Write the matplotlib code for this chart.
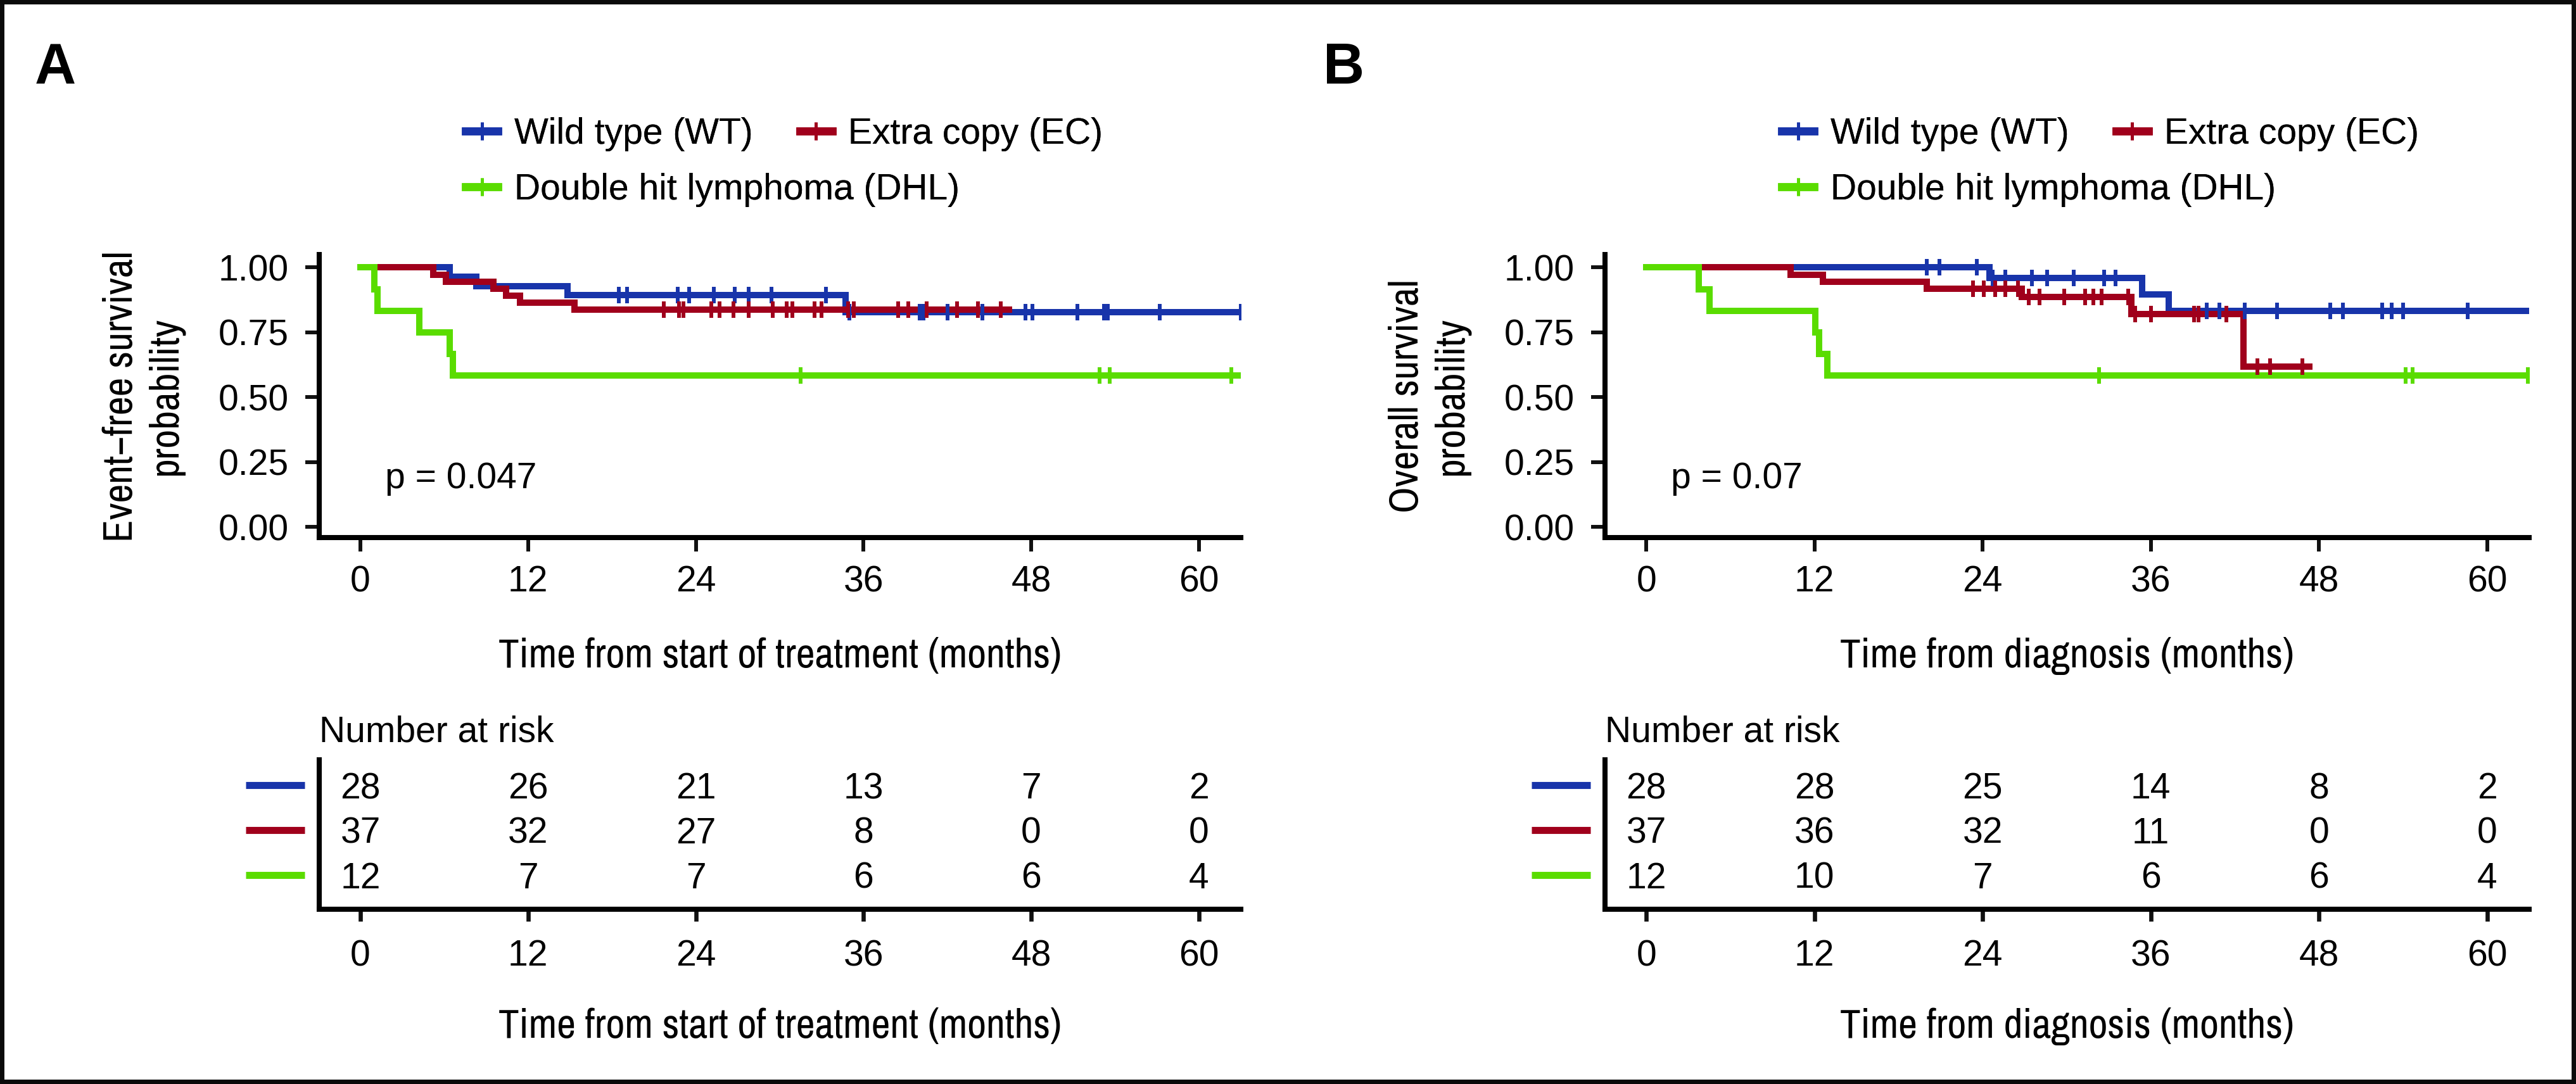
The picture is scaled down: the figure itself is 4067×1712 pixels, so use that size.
import matplotlib
matplotlib.use("Agg")
import matplotlib.pyplot as plt
import matplotlib.transforms as mtransforms
import numpy as np
from matplotlib.lines import Line2D
from matplotlib.patches import Rectangle

plt.rcParams["font.family"] = ["Liberation Sans", "DejaVu Sans"]
NARROW = ["Archivo Narrow", "Roboto Condensed", "Liberation Sans", "DejaVu Sans"]

GROUPS = ["Wild type (WT)", "Extra copy (EC)", "Double hit lymphoma (DHL)"]
COLORS = ["#1834AA", "#A0001C", "#5ADC00"]
RISK_TIMES = [0, 12, 24, 36, 48, 60]

# --- Panel A: event-free survival (time from start of treatment) ---
efs_wt_t = [0, 6.4, 8.3, 14.8, 34.7]
efs_wt_s = [1.0, 0.964, 0.929, 0.893, 0.829]
efs_wt_end = 63.4
efs_wt_cens = [18.5, 19.1, 22.7, 23.5, 25.3, 26.8, 27.8, 29.4, 33.3, 35.0, 40.0, 40.3,
               42.0, 44.5, 47.6, 48.1, 51.3, 53.2, 53.5, 57.2, 63.0]

efs_ec_t = [0, 5.2, 6.1, 9.5, 10.4, 11.4, 15.3]
efs_ec_s = [1.0, 0.973, 0.946, 0.919, 0.892, 0.865, 0.838]
efs_ec_end = 46.4
efs_ec_cens = [21.7, 22.8, 23.1, 25.1, 25.7, 26.7, 27.8, 29.5, 30.5, 30.9, 32.5, 33.0,
               34.9, 35.3, 38.5, 39.2, 40.5, 42.7, 44.2, 45.8]

efs_dhl_t = [0, 1.0, 1.2, 4.2, 6.4, 6.6]
efs_dhl_s = [1.0, 0.917, 0.833, 0.75, 0.667, 0.583]
efs_dhl_end = 63.0
efs_dhl_cens = [31.5, 52.9, 53.6, 62.3]

efs_risk_wt = [28, 26, 21, 13, 7, 2]
efs_risk_ec = [37, 32, 27, 8, 0, 0]
efs_risk_dhl = [12, 7, 7, 6, 6, 4]

# --- Panel B: overall survival (time from diagnosis) ---
os_wt_t = [0, 24.5, 35.4, 37.3]
os_wt_s = [1.0, 0.96, 0.896, 0.832]
os_wt_end = 62.9
os_wt_cens = [20.0, 20.9, 23.6, 24.7, 25.6, 27.5, 28.6, 30.5, 32.65, 33.5, 40.0, 40.9,
              42.7, 45.0, 48.8, 49.7, 52.5, 53.2, 54.0, 58.6]

os_ec_t = [0, 10.3, 12.6, 20.0, 26.8, 34.6, 42.6]
os_ec_s = [1.0, 0.973, 0.946, 0.919, 0.887, 0.82, 0.617]
os_ec_end = 47.3
os_ec_cens = [23.3, 24.1, 24.9, 25.6, 26.5, 27.3, 28.05, 29.8, 31.3, 31.9, 32.5, 34.4,
              34.9, 36.0, 39.1, 39.4, 41.4, 43.6, 44.5, 46.8]

os_dhl_t = [0, 3.75, 4.5, 12.05, 12.35, 12.9]
os_dhl_s = [1.0, 0.917, 0.833, 0.75, 0.667, 0.583]
os_dhl_end = 62.9
os_dhl_cens = [32.3, 54.2, 54.7, 62.9]

os_risk_wt = [28, 28, 25, 14, 8, 2]
os_risk_ec = [37, 36, 32, 11, 0, 0]
os_risk_dhl = [12, 10, 7, 6, 6, 4]

W, H = 4067, 1712
XLIM = (-2.95, 63.0)
FS = 41
FS_TITLE = 47


def draw_km(ax, times, surv, end, cens, color):
    xs = list(times) + [end]
    ys = list(surv) + [surv[-1]]
    ax.plot(xs, ys, drawstyle="steps-post", color=color, lw=7.2, solid_joinstyle="miter", zorder=3)
    idx = np.searchsorted(times, cens, side="right") - 1
    ax.plot(cens, np.asarray(surv)[idx], ls="none", marker="|", ms=19, mew=4.3, color=color, zorder=4)


def legend_row(fig, idx, x, top):
    handles = [Line2D([0], [0], color=COLORS[i], lw=9, marker="|", ms=20, mew=3.5) for i in idx]
    leg = fig.legend(handles, [GROUPS[i] for i in idx], loc="upper left",
                     bbox_to_anchor=(x / W, 1 - top / H), ncol=len(idx), frameon=False,
                     borderpad=0, borderaxespad=0, handlelength=0.9, handletextpad=0.45,
                     columnspacing=1.3, fontsize=FS)
    fig.add_artist(leg)


def panel(fig, x0, width, curves, risk, ylabel, xlabel, ptext, leg_x, letter, letter_x):
    ax = fig.add_axes([x0 / W, (H - 849.4) / H, width / W, 447 / H])
    for (t, s, e, c), col in zip(curves, COLORS):
        draw_km(ax, t, s, e, c, col)
    ax.set_xlim(*XLIM)
    ax.set_ylim(-0.0415, 1.049)
    ax.set_xticks(RISK_TIMES)
    ax.set_yticks([0, 0.25, 0.5, 0.75, 1.0])
    ax.set_yticklabels(["0.00", "0.25", "0.50", "0.75", "1.00"])
    for side in ["top", "right"]:
        ax.spines[side].set_visible(False)
    for side in ["left", "bottom"]:
        ax.spines[side].set_linewidth(5.8)
        ax.spines[side].set_capstyle("projecting")
    ax.tick_params(axis="both", length=16, width=4.3, labelsize=FS, color="#111111")
    ax.tick_params(axis="y", pad=19)
    ax.tick_params(axis="x", pad=15)
    ax.text(1.75, 0.15, ptext, fontsize=FS, va="baseline", ha="left")
    ax.text((226 - 504) / width, 0.5, ylabel, rotation=90, ha="center", va="center",
            multialignment="center", linespacing=1.25, fontsize=FS_TITLE, family=NARROW,
            transform=ax.transAxes)
    ax.text(0.5, (849.4 - 1054) / 447, xlabel, ha="center", va="baseline", fontsize=FS_TITLE,
            family=NARROW, transform=ax.transAxes)

    legend_row(fig, (0, 1), leg_x, 185)
    legend_row(fig, (2,), leg_x, 273)

    fig.text(letter_x / W, 1 - 132 / H, letter, fontsize=65, fontweight="bold", va="baseline", ha="left")

    # risk table
    ar = fig.add_axes([x0 / W, (H - 1436) / H, width / W, 236 / H])
    ar.set_xlim(*XLIM)
    ar.set_ylim(3.77, 0.43)
    for side in ["top", "right"]:
        ar.spines[side].set_visible(False)
    for side in ["left", "bottom"]:
        ar.spines[side].set_linewidth(5.8)
    ar.set_yticks([])
    ar.set_xticks(RISK_TIMES)
    ar.tick_params(axis="x", length=14, width=4.8, pad=20, labelsize=FS, color="#111111")
    trans = mtransforms.blended_transform_factory(ar.transAxes, ar.transData)
    for i, (row, col) in enumerate(zip(risk, COLORS)):
        ar.plot([-0.0797, -0.0158], [i + 1, i + 1], transform=trans, clip_on=False,
                color=col, lw=8, solid_capstyle="butt")
        for t, n in zip(RISK_TIMES, row):
            ar.text(t, i + 1, str(n), ha="center", va="center_baseline", fontsize=FS)
    ar.text(0.0, (1436 - 1172) / 236, "Number at risk", transform=ar.transAxes,
            ha="left", va="baseline", fontsize=FS)
    ar.text(0.5, (1436 - 1639) / 236, xlabel, ha="center", va="baseline", fontsize=FS_TITLE,
            family=NARROW, transform=ar.transAxes)


fig = plt.figure(figsize=(W / 100, H / 100), dpi=100)

panel(fig, 504, 1455,
      [(efs_wt_t, efs_wt_s, efs_wt_end, efs_wt_cens),
       (efs_ec_t, efs_ec_s, efs_ec_end, efs_ec_cens),
       (efs_dhl_t, efs_dhl_s, efs_dhl_end, efs_dhl_cens)],
      [efs_risk_wt, efs_risk_ec, efs_risk_dhl],
      "Event\u2212free survival\nprobability", "Time from start of treatment (months)",
      "p = 0.047", 735, "A", 55)

panel(fig, 2534, 1459,
      [(os_wt_t, os_wt_s, os_wt_end, os_wt_cens),
       (os_ec_t, os_ec_s, os_ec_end, os_ec_cens),
       (os_dhl_t, os_dhl_s, os_dhl_end, os_dhl_cens)],
      [os_risk_wt, os_risk_ec, os_risk_dhl],
      "Overall survival\nprobability", "Time from diagnosis (months)",
      "p = 0.07", 2813, "B", 2089)

fig.patches.append(Rectangle((0, 0), 1, 1, transform=fig.transFigure, fill=False,
                             lw=10, ec="#0a0a0a"))

fig.savefig("out.png", dpi=100)
